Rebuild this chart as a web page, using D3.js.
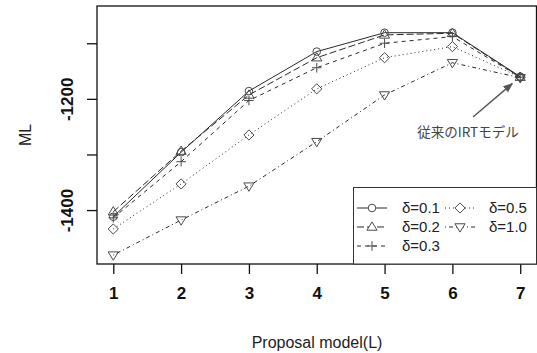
<!DOCTYPE html>
<html>
<head>
<meta charset="utf-8">
<script src="https://cdn.jsdelivr.net/npm/d3@7"></script>
<style>
  body { margin: 0; background: #fff; }
  svg { display: block; font-family: "Liberation Sans", Arial, sans-serif; }
</style>
</head>
<body>
<div id="chart"></div>
<script>
// Values
const models = [1, 2, 3, 4, 5, 6, 7]
const yTicks = [-1400, -1300, -1200, -1100]
const yLabels = [-1400, -1200]

const d01 = [-1412, -1296, -1186, -1115, -1081, -1081, -1160]
const d02 = [-1403, -1294, -1193, -1126, -1085, -1082, -1161]
const d03 = [-1414, -1313, -1203, -1144, -1100, -1088, -1161]
const d05 = [-1434, -1353, -1265, -1182, -1126, -1106, -1161]
const d10 = [-1481, -1418, -1357, -1277, -1193, -1135, -1162]

const seriesNames = ["δ=0.1", "δ=0.2", "δ=0.3", "δ=0.5", "δ=1.0"]
const seriesValues = [d01, d02, d03, d05, d10]
const shapes = ["circle", "triangle", "plus", "diamond", "down"]
const dashes = [null, "7,3", "4,4", "1,3", "1,3,4,3"]

const W = 537, H = 353
const margin = { left: 97, right: 0.5, top: 6, bottom: 89 }

const svg = d3.select("#chart").append("svg")
  .attr("width", W)
  .attr("height", H)

const x = d3.scaleLinear()
  .domain([0.76, 7.24])
  .range([margin.left, W - margin.right])

const y = d3.scaleLinear()
  .domain([-1497, -1033])
  .range([H - margin.bottom, margin.top])

const lineCol = "#2a2a2a"
const markCol = "#4a4a4a"

// Markers, R style pch shapes
function drawMarker(g, shape, cx, cy) {
  let s = 4.3
  if (shape === "circle") {
    g.append("circle").attr("cx", cx).attr("cy", cy).attr("r", 3.8)
  } else if (shape === "triangle") {
    g.append("path").attr("d", `M${cx},${cy - s - 0.8}L${cx + s + 0.8},${cy + s * 0.75}L${cx - s - 0.8},${cy + s * 0.75}Z`)
  } else if (shape === "down") {
    g.append("path").attr("d", `M${cx},${cy + s + 0.8}L${cx + s + 0.8},${cy - s * 0.75}L${cx - s - 0.8},${cy - s * 0.75}Z`)
  } else if (shape === "diamond") {
    g.append("path").attr("d", `M${cx},${cy - s - 0.8}L${cx + s + 0.8},${cy}L${cx},${cy + s + 0.8}L${cx - s - 0.8},${cy}Z`)
  } else if (shape === "plus") {
    g.append("path").attr("d", `M${cx - s - 0.5},${cy}H${cx + s + 0.5}M${cx},${cy - s - 0.5}V${cy + s + 0.5}`)
  }
}

// Series lines
const line = d3.line()
  .x((d, i) => x(models[i]))
  .y(d => y(d))

const series = svg.append("g").attr("class", "series")

seriesValues.forEach((vals, k) => {
  series.append("path")
    .datum(vals)
    .attr("d", line)
    .attr("fill", "none")
    .attr("stroke", lineCol)
    .attr("stroke-width", 1)
    .attr("stroke-dasharray", dashes[k])
  let mg = series.append("g")
    .attr("fill", "none")
    .attr("stroke", markCol)
    .attr("stroke-width", 1)
  vals.forEach((v, i) => drawMarker(mg, shapes[k], x(models[i]), y(v)))
})

// Frame
svg.append("rect")
  .attr("x", margin.left)
  .attr("y", margin.top)
  .attr("width", W - margin.right - margin.left)
  .attr("height", H - margin.bottom - margin.top)
  .attr("fill", "none")
  .attr("stroke", "#111")
  .attr("stroke-width", 1.3)

// Axes
const xAxis = svg.append("g")
  .attr("transform", `translate(0,${H - margin.bottom})`)
  .call(d3.axisBottom(x).tickValues(models).tickFormat(d3.format("d")).tickSize(10).tickPadding(13))
xAxis.select(".domain").remove()
xAxis.selectAll("line").attr("stroke", "#111").attr("stroke-width", 1.3)
xAxis.selectAll("text")
  .attr("fill", "#111")
  .style("font-size", "17px")
  .style("font-weight", "bold")
  .style("font-family", "Liberation Sans, Arial, sans-serif")

const yAxis = svg.append("g")
  .attr("transform", `translate(${margin.left},0)`)
  .call(d3.axisLeft(y).tickValues(yTicks).tickSize(10).tickFormat(d => yLabels.includes(d) ? d : ""))
yAxis.select(".domain").remove()
yAxis.selectAll("line").attr("stroke", "#111").attr("stroke-width", 1.3)
// tick groups already sit at y(d); rotate the labels in place
yAxis.selectAll("text")
  .attr("fill", "#111")
  .attr("transform", "translate(-30,0) rotate(-90)")
  .attr("x", 0)
  .attr("y", 0)
  .attr("dy", "0.35em")
  .attr("text-anchor", "middle")
  .style("font-size", "17px")
  .style("font-weight", "bold")
  .style("font-family", "Liberation Sans, Arial, sans-serif")

// Axis titles
svg.append("text")
  .attr("x", (margin.left + W) / 2)
  .attr("y", 348)
  .attr("text-anchor", "middle")
  .attr("fill", "#222")
  .style("font-size", "16px")
  .text("Proposal model(L)")

svg.append("text")
  .attr("transform", `translate(31,${(margin.top + H - margin.bottom) / 2}) rotate(-90)`)
  .attr("text-anchor", "middle")
  .attr("fill", "#222")
  .style("font-size", "16px")
  .text("ML")

// Annotation
svg.append("defs").append("marker")
  .attr("id", "head")
  .attr("viewBox", "0 0 10 10")
  .attr("refX", 9).attr("refY", 5)
  .attr("markerWidth", 7).attr("markerHeight", 7)
  .attr("orient", "auto")
  .append("path")
  .attr("d", "M0,1L10,5L0,9Z")
  .attr("fill", "#555")

svg.append("line")
  .attr("x1", 473).attr("y1", 117)
  .attr("x2", x(7) - 8).attr("y2", y(d01[6]) + 7)
  .attr("stroke", "#555")
  .attr("stroke-width", 1.4)
  .attr("marker-end", "url(#head)")

svg.append("text")
  .attr("x", 468)
  .attr("y", 137)
  .attr("text-anchor", "middle")
  .attr("fill", "#444")
  .style("font-family", "'Noto Sans CJK JP', sans-serif")
  .style("font-size", "13.5px")
  .text("従来のIRTモデル")

// Legend
const leg = svg.append("g")
leg.append("rect")
  .attr("x", 353.5).attr("y", 187.5)
  .attr("width", W - 0.5 - 353.5)
  .attr("height", H - margin.bottom - 187.5)
  .attr("fill", "#fff")
  .attr("stroke", "#333")
  .attr("stroke-width", 1)

const legCols = [{ sym: 372, text: 402 }, { sym: 460, text: 489 }]
const legRows = [208, 227, 246]
const legPos = [[0, 0], [0, 1], [0, 2], [1, 0], [1, 1]]

seriesNames.forEach((name, k) => {
  const [c, r] = legPos[k]
  const cx = legCols[c].sym, cy = legRows[r]
  leg.append("line")
    .attr("x1", cx - 15).attr("x2", cx + 15)
    .attr("y1", cy).attr("y2", cy)
    .attr("stroke", lineCol)
    .attr("stroke-dasharray", dashes[k])
  let mg = leg.append("g").attr("fill", "#fff").attr("stroke", markCol)
  drawMarker(mg, shapes[k], cx, cy)
  leg.append("text")
    .attr("x", legCols[c].text)
    .attr("y", cy)
    .attr("dy", "0.35em")
    .attr("fill", "#222")
    .style("font-size", "15px")
    .text(name)
})
</script>
</body>
</html>
